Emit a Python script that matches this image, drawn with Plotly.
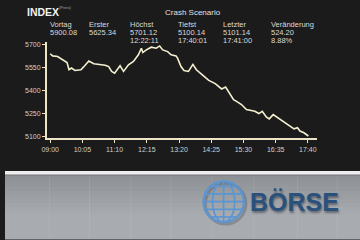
import plotly.graph_objects as go
import math

# ---- data ----
times = ["09:00", "09:05", "09:15", "09:25", "09:34", "09:38", "09:43", "09:50", "10:02", "10:07",
         "10:18", "10:28", "10:51", "10:58", "11:04", "11:10", "11:21", "11:28", "11:38", "11:48",
         "11:58", "12:04", "12:07", "12:14", "12:24", "12:34", "12:41", "12:47", "12:57", "13:04",
         "13:14", "13:17", "13:24", "13:30", "13:39", "13:48", "13:55", "14:07", "14:20", "14:33",
         "14:46", "14:54", "15:00", "15:10", "15:16", "15:26", "15:36", "15:53", "16:01", "16:08",
         "16:16", "16:22", "16:30", "16:39", "16:49", "17:02", "17:12", "17:19", "17:24", "17:32",
         "17:39", "17:41"]
values = [5640, 5626, 5622, 5600, 5582, 5535, 5546, 5530, 5535, 5552,
          5592, 5574, 5565, 5556, 5524, 5513, 5561, 5524, 5567, 5589,
          5633, 5676, 5648, 5665, 5683, 5676, 5691, 5665, 5654, 5633,
          5626, 5611, 5556, 5530, 5524, 5570, 5535, 5502, 5465, 5444,
          5409, 5422, 5393, 5339, 5328, 5307, 5274, 5263, 5248, 5263,
          5226, 5213, 5241, 5220, 5198, 5170, 5148, 5155, 5133, 5122,
          5104, 5101]
x_ticks = ["09:00", "10:05", "11:10", "12:15", "13:20", "14:25", "15:30", "16:35", "17:40"]
y_ticks = [5100, 5250, 5400, 5550, 5700]

headers = ["Vortag", "Erster", "Höchst", "Tiefst", "Letzter", "Veränderung"]
row1 = ["5900.08", "5625.34", "5701.12", "5100.14", "5101.14", "524.20"]
row2 = ["", "", "12:22:11", "17:40:01", "17:41:00", "8.88%"]
col_x = [44, 83.5, 124.5, 173.5, 219, 267.5]

DAY = "2020-01-01 "
W, H = 360, 240


def px(x):
    return x / W


def py(y):
    return 1 - y / H


fig = go.Figure()
fig.add_trace(go.Scatter(
    x=[DAY + t for t in times], y=values, mode="lines",
    line=dict(color="#f4efcf", width=1.6), hoverinfo="skip", showlegend=False))

axis_col = "#ece6c6"
tfont = dict(family="Liberation Sans, Arial, sans-serif", size=7, color="#cfcfcf")
fig.update_layout(
    width=W, height=H, margin=dict(l=0, r=0, t=0, b=0),
    paper_bgcolor="#1b1b1b", plot_bgcolor="#1b1b1b",
    showlegend=False,
    xaxis=dict(
        domain=[px(42.3), px(316.7)],
        type="date",
        range=[DAY + "08:53", DAY + "17:59"],
        tickvals=[DAY + t for t in x_ticks], ticktext=x_ticks,
        ticks="outside", ticklen=3, tickwidth=1.2, tickcolor=axis_col,
        showline=True, linecolor=axis_col, linewidth=1.5,
        showgrid=False, zeroline=False, tickfont=tfont,
    ),
    yaxis=dict(
        domain=[py(139), py(41.7)],
        range=[5085, 5720],
        tickvals=y_ticks, ticktext=[str(v) for v in y_ticks],
        ticks="outside", ticklen=3, tickwidth=1.2, tickcolor=axis_col,
        showline=True, linecolor=axis_col, linewidth=1.5,
        showgrid=False, zeroline=False, tickfont=tfont,
    ),
)

shapes = []
annots = []

# bottom panel (fake gradient)
top, bot = 175.5, 240
n = 16
c0 = (0x8e, 0x92, 0x97)
c1 = (0xa8, 0xac, 0xb0)
for i in range(n):
    f = i / (n - 1)
    c = tuple(int(c0[k] + (c1[k] - c0[k]) * min(1, f * 1.6)) for k in range(3))
    y0 = top + (bot - top) * i / n
    y1 = top + (bot - top) * (i + 1) / n + 0.5
    shapes.append(dict(type="rect", xref="paper", yref="paper", x0=0, x1=1,
                       y0=py(y1), y1=py(y0), line=dict(width=0),
                       fillcolor="rgb(%d,%d,%d)" % c, layer="below"))
for vx in [45, 85.7, 127.7, 168.3, 210, 252.3, 296.7, 336.7]:
    shapes.append(dict(type="line", xref="paper", yref="paper", x0=px(vx), x1=px(vx),
                       y0=0, y1=py(top), line=dict(color="rgba(255,255,255,0.08)", width=1),
                       layer="below"))
shapes.append(dict(type="rect", xref="paper", yref="paper", x0=0, x1=1,
                   y0=py(175.5), y1=py(171.8), line=dict(width=0), fillcolor="#eeeeee"))
shapes.append(dict(type="line", xref="paper", yref="paper", x0=0, x1=1,
                   y0=py(176), y1=py(176), line=dict(color="#7d8186", width=1)))

# globe
cx, cy, r = 221.7, 202.5, 20.5
gcol = "#5b95d2"
shapes.append(dict(type="circle", xref="paper", yref="paper",
                   x0=px(cx - r + 2), x1=px(cx + r + 2), y0=py(cy + r + 2), y1=py(cy - r + 2),
                   line=dict(color="rgba(60,60,70,0.3)", width=3)))
shapes.append(dict(type="circle", xref="paper", yref="paper",
                   x0=px(cx - r), x1=px(cx + r), y0=py(cy + r), y1=py(cy - r),
                   line=dict(color=gcol, width=2.2)))
shapes.append(dict(type="circle", xref="paper", yref="paper",
                   x0=px(cx - r * 0.55), x1=px(cx + r * 0.55), y0=py(cy + r), y1=py(cy - r),
                   line=dict(color=gcol, width=1.7)))
shapes.append(dict(type="line", xref="paper", yref="paper", x0=px(cx), x1=px(cx),
                   y0=py(cy + r), y1=py(cy - r), line=dict(color=gcol, width=1.7)))
for k in [-0.75, -0.38, 0, 0.38, 0.75]:
    hw = r * math.sqrt(1 - k * k)
    yy = cy + k * r
    shapes.append(dict(type="line", xref="paper", yref="paper", x0=px(cx - hw), x1=px(cx + hw),
                       y0=py(yy), y1=py(yy), line=dict(color=gcol, width=1.7)))

fig.update_layout(shapes=shapes)

hfont = "Liberation Sans, Arial, sans-serif"
annots.append(dict(x=px(20), y=py(12), xref="paper", yref="paper", xanchor="left", yanchor="middle",
                   text="<b>INDEX</b>", showarrow=False,
                   font=dict(family=hfont, size=10.5, color="#f2f2f2")))
annots.append(dict(x=px(53), y=py(7.5), xref="paper", yref="paper", xanchor="left", yanchor="middle",
                   text="(Preis)", showarrow=False, font=dict(family=hfont, size=4, color="#aaaaaa")))
annots.append(dict(x=px(190.5), y=py(12.3), xref="paper", yref="paper", xanchor="center", yanchor="middle",
                   text="Crash Scenario", showarrow=False, font=dict(family=hfont, size=8, color="#e0e0e0")))
for i, cxp in enumerate(col_x):
    for txt, yy in [(headers[i], 25), (row1[i], 32.7), (row2[i], 40.8)]:
        if txt:
            annots.append(dict(x=px(cxp), y=py(yy), xref="paper", yref="paper", xanchor="left",
                               yanchor="middle", text=txt, showarrow=False,
                               font=dict(family=hfont, size=7.5, color="#dadada")))
annots.append(dict(x=px(294), y=py(203), xref="paper", yref="paper", xanchor="center", yanchor="middle",
                   text="<b>BÖRSE</b>", showarrow=False,
                   font=dict(family=hfont, size=25, color="#29517c",
                             shadow="1px 2px 2px rgba(30,30,40,0.45)")))

fig.update_layout(annotations=annots)
fig.write_html("out.html")
